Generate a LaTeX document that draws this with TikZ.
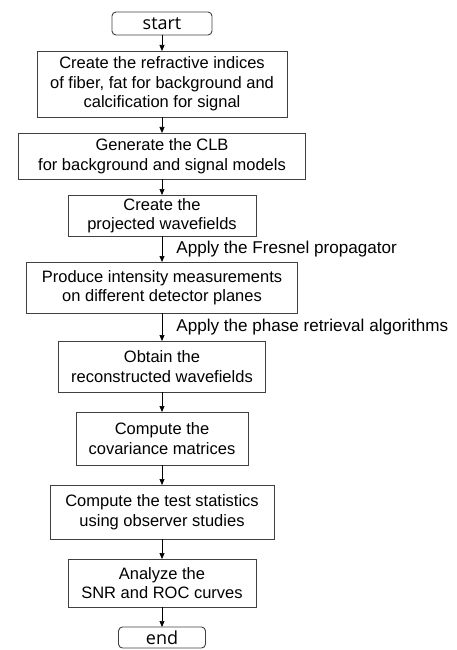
\documentclass[tikz,border=0pt]{standalone}
\usepackage{fontspec}
\setmainfont{Liberation Sans}
\newfontfamily\termfont{Open Sans}
\usetikzlibrary{positioning,arrows.meta}

\begin{document}
\begin{tikzpicture}[x=1pt, y=1pt, node distance=16pt,
        block/.style={rectangle, draw=black!75, line width=0.9pt, align=center, inner sep=0pt, outer sep=0pt, font=\fontsize{16.5}{19.5}\selectfont},
        term/.style={rectangle, draw=black!75, line width=0.9pt, rounded corners=4pt, inner sep=0pt, outer sep=0pt, font=\termfont\fontsize{18}{20}\selectfont},
        note/.style={inner sep=0pt, font=\fontsize{17.1}{19.5}\selectfont},
        line/.style={draw, -{Triangle[length=6pt,width=5pt]}, line width=0.7pt}]
        \useasboundingbox (0,0) rectangle (456,-650);
        \node [term, minimum width=100pt, minimum height=23pt] (start) at (162,-23.5) {start};
        \node [block, minimum width=250pt, minimum height=66pt, below=of start] (indices) {Create the refractive indices\\of fiber, fat for background and\\calcification for signal};
        \node [block, minimum width=287pt, minimum height=46pt, below=of indices] (clb) {Generate the CLB\\for background and signal models};
        \node [block, minimum width=188pt, minimum height=41pt, below=of clb] (proj) {Create the\\projected wavefields};
        \node [block, minimum width=271pt, minimum height=51pt, below=26pt of proj] (meas) {Produce intensity measurements\\on different detector planes};
        \node [block, minimum width=207pt, minimum height=51pt, below=28pt of meas] (recon) {Obtain the\\reconstructed wavefields};
        \node [block, minimum width=172pt, minimum height=53pt, below=20pt of recon] (cov) {Compute the\\covariance matrices};
        \node [block, minimum width=224pt, minimum height=54pt, below=20pt of cov] (stats) {Compute the test statistics\\using observer studies};
        \node [block, minimum width=188pt, minimum height=48pt, below=20pt of stats] (snr) {Analyze the\\SNR and ROC curves};
        \node [term, minimum width=87pt, minimum height=21pt, below=20pt of snr] (end) {end};

        \path [line] (start) -- (indices);
        \path [line] (indices) -- (clb);
        \path [line] (clb) -- (proj);
        \path [line] (proj) -- node[note, right=14pt] {Apply the Fresnel propagator} (meas);
        \path [line] (meas) -- node[note, right=14pt] {Apply the phase retrieval algorithms} (recon);
        \path [line] (recon) -- (cov);
        \path [line] (cov) -- (stats);
        \path [line] (stats) -- (snr);
        \path [line] (snr) -- (end);
    \end{tikzpicture}
\end{document}
